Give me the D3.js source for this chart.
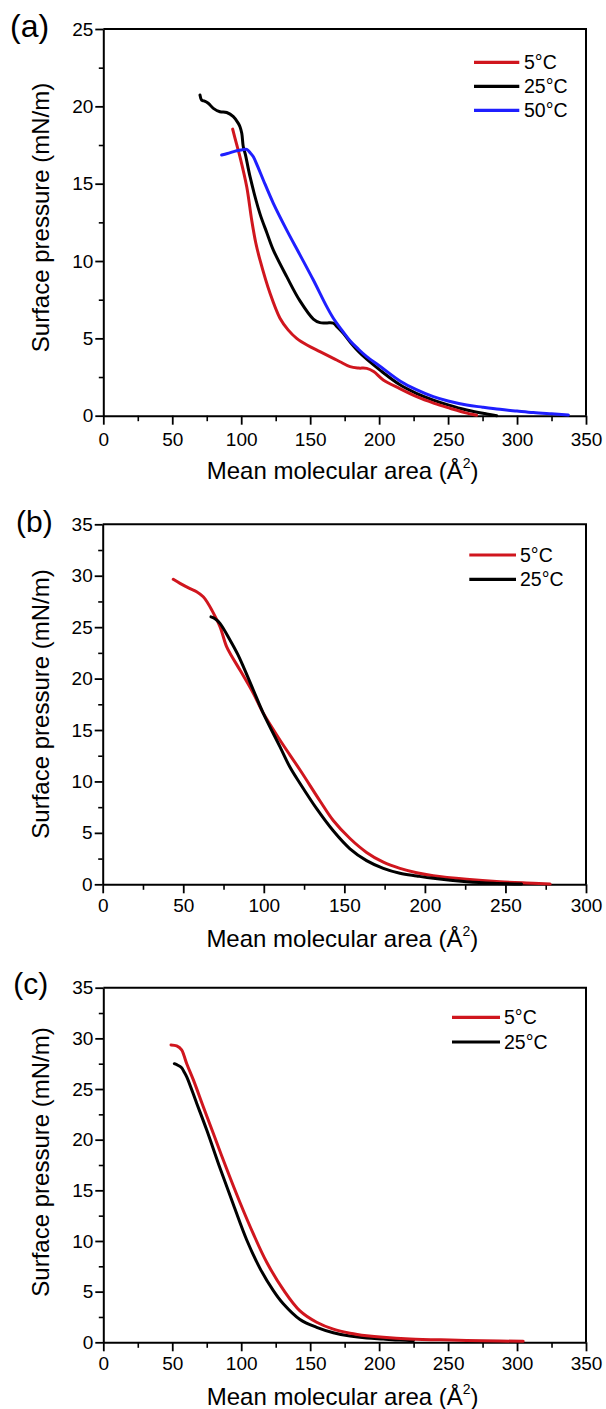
<!DOCTYPE html>
<html>
<head>
<meta charset="utf-8">
<script src="https://cdn.jsdelivr.net/npm/d3@7"></script>
<style>
  html, body { margin: 0; padding: 0; background: #fff; }
  svg { display: block; }
  text { font-family: "Liberation Sans", Arial, sans-serif; fill: #000; }
</style>
</head>
<body>
<svg id="chart" width="606" height="1409"></svg>
<script>
// ---------------- DATA ----------------
// Panel (a): [mean molecular area (Å^2), surface pressure (mN/m)]
const a_5C = [[93.8,18.53],[96.5,17.6],[99.1,16.74],[104,14.8],[107.6,12.65],[110.5,11.2],[113.6,10.07],[120.9,7.91],[128.1,6.3],[134,5.55],[140.2,5.0],[148,4.55],[157.1,4.14],[166.8,3.71],[171.6,3.49],[178.9,3.17],[185,3.08],[191,3.06],[196,2.85],[203,2.31],[215,1.75],[227.2,1.23],[240,0.8],[251.4,0.48],[262,0.2],[270.7,0.03]];
const a_25C = [[70.1,20.73],[71.3,20.4],[73,20.35],[76.1,20.2],[79.8,19.87],[84.6,19.65],[89.5,19.6],[94.3,19.33],[97.9,18.9],[99.1,18.68],[100.4,18.26],[101.5,17.39],[103,16.9],[106.4,15.45],[113.5,13.08],[118.5,11.85],[123.3,10.71],[133,8.99],[142.6,7.42],[152.3,6.25],[157.1,6.02],[162,6.0],[166.8,5.98],[170,5.7],[174,5.33],[180,4.65],[185,4.15],[191,3.65],[200.6,2.95],[215.1,2.0],[227,1.45],[239.3,1.01],[250,0.7],[263.5,0.37],[278,0.11],[285.3,0.0]];
const a_50C = [[85.8,16.85],[90,16.95],[96.7,17.13],[101,17.2],[104,17.22],[106.5,17.0],[108.8,16.74],[112,16.1],[116,15.24],[123.3,13.73],[133,12.0],[142.6,10.4],[152.3,8.77],[162,7.05],[166.8,6.3],[171.6,5.7],[178.9,4.85],[185,4.3],[191,3.82],[200.6,3.2],[215.1,2.25],[227,1.68],[239.3,1.23],[250,0.95],[263.5,0.69],[275,0.55],[287.6,0.41],[300,0.3],[311.8,0.2],[325,0.12],[337.2,0.05]];

// Panel (b)
const b_5C = [[43.8,29.65],[48,29.26],[54.2,28.75],[58.3,28.45],[62.4,27.96],[65,27.4],[67.7,26.67],[72.8,25.04],[76.9,23.1],[80,22.2],[85.2,20.83],[93.5,18.57],[99.7,16.62],[110,14.03],[122.5,11.11],[134.9,8.1],[143.1,6.2],[153.5,4.45],[163.8,3.1],[174.2,2.15],[184.5,1.55],[194.9,1.13],[205.2,0.84],[225.9,0.49],[246.6,0.25],[267.3,0.1],[277.7,0.02]];
const b_25C = [[67.2,26.0],[69.5,25.85],[72.8,25.37],[79,23.75],[84,22.3],[87.3,21.16],[93.5,18.89],[99.7,16.62],[110,13.38],[116.2,11.4],[122.5,9.8],[132.8,7.35],[143.1,5.2],[153.5,3.45],[163.8,2.3],[174.2,1.55],[184.5,1.07],[194.9,0.81],[205.2,0.58],[225.9,0.25],[242.5,0.1],[260,0.03]];

// Panel (c)
const c_5C = [[49.1,29.35],[53.2,29.25],[56.8,28.86],[58.5,28.3],[60.5,27.5],[65.3,25.9],[72.5,23.25],[79.8,20.6],[89.5,17.1],[99.1,13.8],[108.8,10.7],[118.5,7.9],[130.5,5.2],[142.6,3.1],[154.7,1.98],[166.8,1.3],[178.9,0.9],[191,0.65],[203,0.49],[222.4,0.33],[251.4,0.22],[275.5,0.15],[304.5,0.1]];
const c_25C = [[51.5,27.5],[54,27.35],[56.8,27.1],[58.5,26.7],[60.5,26.2],[67.7,23.6],[75,20.95],[84.6,17.2],[94.3,13.6],[104,10.1],[113.6,7.3],[123.3,5.1],[130.5,3.8],[142.6,2.25],[154.7,1.48],[166.8,0.95],[178.9,0.62],[191,0.42],[203,0.32],[215,0.22],[225,0.17]];

// Tick values
const xTicksA = [0,50,100,150,200,250,300,350];
const yTicksA = [0,5,10,15,20,25];
const xTicksB = [0,50,100,150,200,250,300];
const yTicksB = [0,5,10,15,20,25,30,35];
const xTicksC = [0,50,100,150,200,250,300,350];
const yTicksC = [0,5,10,15,20,25,30,35];

// Series names & colours
const seriesNamesA = ["5°C","25°C","50°C"];
const seriesNamesBC = ["5°C","25°C"];
const RED = "#d0161e", BLACK = "#000000", BLUE = "#1f1fff";

// ---------------- LAYOUT ----------------
const panels = [
  { label: "(a)", labelX: 10, labelY: 36.6, labelSize: 32,
    left: 103.3, right: 586, top: 29, bottom: 415.7,
    xMax: 350, yMax: 25, xTicks: xTicksA, yTicks: yTicksA,
    xTickOffset: 30.3, xTitleY: 478.5, yTitleY: 217.5,
    series: [ {name: seriesNamesA[1], data: a_25C, color: BLACK},
              {name: seriesNamesA[0], data: a_5C, color: RED},
              {name: seriesNamesA[2], data: a_50C, color: BLUE} ],
    legendOrder: [1,0,2],
    legend: { x1: 474, x2: 519.3, y0: 62.3, dy: 24, tx: 524 } },
  { label: "(b)", labelX: 16, labelY: 532, labelSize: 30,
    left: 102.7, right: 586, top: 524.3, bottom: 884.3,
    xMax: 300, yMax: 35, xTicks: xTicksB, yTicks: yTicksB,
    xTickOffset: 27.5, xTitleY: 947, yTitleY: 704,
    series: [ {name: seriesNamesBC[0], data: b_5C, color: RED},
              {name: seriesNamesBC[1], data: b_25C, color: BLACK} ],
    legendOrder: [0,1],
    legend: { x1: 469.3, x2: 516, y0: 555, dy: 24.3, tx: 520 } },
  { label: "(c)", labelX: 13.3, labelY: 993.7, labelSize: 30,
    left: 103.3, right: 586, top: 987.7, bottom: 1342.3,
    xMax: 350, yMax: 35, xTicks: xTicksC, yTicks: yTicksC,
    xTickOffset: 27.7, xTitleY: 1405, yTitleY: 1162,
    series: [ {name: seriesNamesBC[1], data: c_25C, color: BLACK},
              {name: seriesNamesBC[0], data: c_5C, color: RED} ],
    legendOrder: [1,0],
    legend: { x1: 452, x2: 500, y0: 1017.3, dy: 24.7, tx: 504 } }
];

const svg = d3.select("#chart");
const TICK_FS = 19, TITLE_FS = 24, LEG_FS = 19.5;

panels.forEach(p => {
  const x = d3.scaleLinear().domain([0, p.xMax]).range([p.left, p.right]);
  const y = d3.scaleLinear().domain([0, p.yMax]).range([p.bottom, p.top]);
  const g = svg.append("g");

  // frame (top & right)
  g.append("path")
    .attr("d", `M${p.left},${p.top}H${p.right}V${p.bottom}`)
    .attr("fill", "none").attr("stroke", "#000").attr("stroke-width", 2);

  // minor ticks
  const xMinor = d3.range(25, p.xMax, 50);
  const yMinor = d3.range(2.5, p.yMax, 5);
  const gxm = g.append("g").attr("transform", `translate(0,${p.bottom})`)
    .call(d3.axisBottom(x).tickValues(xMinor).tickSize(5.5).tickSizeOuter(0).tickFormat(""));
  const gym = g.append("g").attr("transform", `translate(${p.left},0)`)
    .call(d3.axisLeft(y).tickValues(yMinor).tickSize(4.5).tickSizeOuter(0).tickFormat(""));
  [gxm, gym].forEach(a => { a.select(".domain").remove(); a.selectAll("line").attr("stroke-width", 1.6); });

  // major axes
  const padX = p.xTickOffset - 0.71 * TICK_FS - 9;
  const gx = g.append("g").attr("transform", `translate(0,${p.bottom})`)
    .call(d3.axisBottom(x).tickValues(p.xTicks).tickSize(9).tickSizeOuter(0).tickPadding(padX).tickFormat(d3.format("d")));
  const gy = g.append("g").attr("transform", `translate(${p.left},0)`)
    .call(d3.axisLeft(y).tickValues(p.yTicks).tickSize(8).tickSizeOuter(0).tickPadding(2).tickFormat(d3.format("d")));
  [gx, gy].forEach(a => {
    a.select(".domain").attr("stroke-width", 2);
    a.selectAll("line").attr("stroke-width", 1.8);
    a.selectAll("text").attr("font-size", TICK_FS)
      .attr("font-family", '"Liberation Sans", Arial, sans-serif').attr("fill", "#000");
  });

  // series
  const line = d3.line().x(d => x(d[0])).y(d => y(d[1])).curve(d3.curveCatmullRom.alpha(0.5));
  p.series.forEach(s => {
    g.append("path").datum(s.data)
      .attr("d", line).attr("fill", "none")
      .attr("stroke", s.color).attr("stroke-width", 3)
      .attr("stroke-linejoin", "round").attr("stroke-linecap", "round");
  });

  // legend
  p.legendOrder.forEach((si, i) => {
    const s = p.series[si];
    const ly = p.legend.y0 + i * p.legend.dy;
    g.append("line").attr("x1", p.legend.x1).attr("x2", p.legend.x2)
      .attr("y1", ly).attr("y2", ly).attr("stroke", s.color).attr("stroke-width", 3.2);
    g.append("text").attr("x", p.legend.tx).attr("y", ly).attr("dy", "0.36em")
      .attr("font-size", LEG_FS).text(s.name);
  });

  // axis titles
  const xt = g.append("text").attr("x", (p.left + p.right) / 2 - 2).attr("y", p.xTitleY)
    .attr("text-anchor", "middle").attr("font-size", TITLE_FS);
  xt.append("tspan").text("Mean molecular area (Å");
  xt.append("tspan").attr("font-size", 14).attr("dy", -11).text("2");
  xt.append("tspan").attr("dy", 11).text(")");

  g.append("text").attr("transform", `translate(49,${p.yTitleY}) rotate(-90)`)
    .attr("text-anchor", "middle").attr("font-size", TITLE_FS)
    .text("Surface pressure (mN/m)");

  // panel label
  g.append("text").attr("x", p.labelX).attr("y", p.labelY)
    .attr("font-size", p.labelSize).text(p.label);
});
</script>
</body>
</html>
